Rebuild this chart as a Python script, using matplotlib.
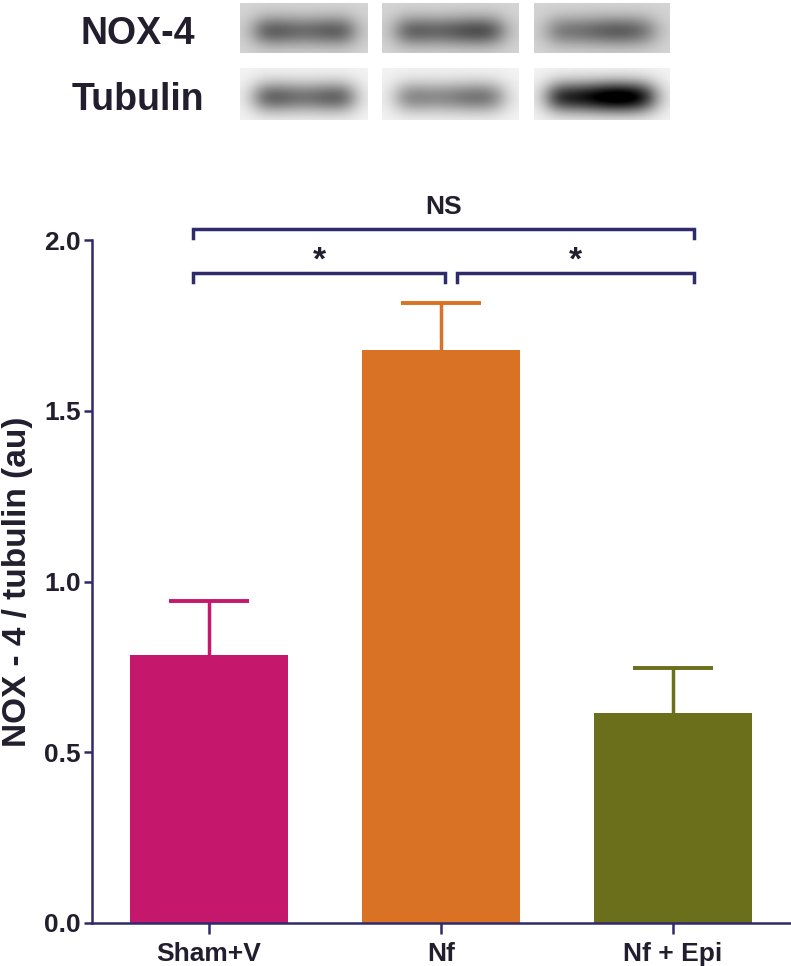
import matplotlib
matplotlib.use('Agg')
import matplotlib.pyplot as plt
import numpy as np

groups = ['Sham+V', 'Nf', 'Nf + Epi']
means = [0.785, 1.678, 0.615]
sems = [0.158, 0.137, 0.132]
colors = ['#C5176C', '#D97224', '#6B6E1A']

# blot band darkness (0 = white, 1 = black) per lane
nox_dark = [0.45, 0.48, 0.42]
tub_dark = [0.55, 0.45, 0.95]
blot_rows = ['NOX-4', 'Tubulin']

# significance brackets: (from group, to group, label)
brackets = [(0, 2, 'NS'), (0, 1, '*'), (1, 2, '*')]

plt.rcParams['font.family'] = ['Liberation Sans Narrow', 'Liberation Sans', 'DejaVu Sans']
plt.rcParams['font.weight'] = 'bold'
axcol = '#2E2A6B'
txtcol = '#221E2E'

W, H = 791, 966
fig = plt.figure(figsize=(W / 100, H / 100), dpi=100)

# ---- western blot strip ----
def band(dark, bg, shape, shift):
    h, w = shape
    yy, xx = np.mgrid[0:h, 0:w]
    cy = h * 0.55
    prof_y = np.exp(-((yy - cy) / (h * 0.3)) ** 2)
    prof_x = 1 / (1 + np.exp(-(xx - w * 0.12) / 7)) / (1 + np.exp((xx - w * 0.88) / 7))
    wobble = 1 + 0.1 * np.sin(xx / w * 2 * np.pi * 1.5 + shift)
    img = bg - dark * prof_y * prof_x * wobble
    return np.clip(img, 0, 1)

lanes_x = [(240, 368), (382, 519), (534, 670)]
rows_y = [(3, 53), (68, 120)]
for r, (y0, y1) in enumerate(rows_y):
    darks = nox_dark if r == 0 else tub_dark
    bg = 0.83 if r == 0 else 0.95
    for i, (x0, x1) in enumerate(lanes_x):
        bax = fig.add_axes([x0 / W, 1 - y1 / H, (x1 - x0) / W, (y1 - y0) / H])
        img = band(darks[i], bg, (y1 - y0, x1 - x0), i)
        bax.imshow(img, cmap='gray', vmin=0, vmax=1, aspect='auto', interpolation='bilinear')
        bax.axis('off')
    fig.text(138 / W, 1 - ((y0 + y1) / 2 + 6) / H, blot_rows[r], ha='center', va='center',
             fontsize=27, fontweight='bold', color=txtcol)

# ---- bar chart ----
ax = fig.add_axes([92 / W, (H - 923) / H, (W - 92) / W, (923 - 240) / H])
x = np.arange(len(groups))
for i in range(len(groups)):
    ax.bar(x[i], means[i], width=0.68, color=colors[i], zorder=2)
    ax.errorbar(x[i], means[i], yerr=[[0], [sems[i]]], color=colors[i], elinewidth=2.5,
                capsize=0, zorder=1)
    ax.plot(x[i], means[i] + sems[i], marker='_', ms=58, mew=2.8, color=colors[i],
            zorder=1)

ax.set_xlim(-0.504, 2.51)
ax.set_ylim(0, 2.0)
ax.set_yticks([0, 0.5, 1.0, 1.5, 2.0])
ax.set_yticklabels(['0.0', '0.5', '1.0', '1.5', '2.0'])
ax.set_xticks(x)
ax.set_xticklabels(groups)
for s in ['top', 'right']:
    ax.spines[s].set_visible(False)
for s in ['left', 'bottom']:
    ax.spines[s].set_color(axcol)
    ax.spines[s].set_linewidth(1.8)
ax.tick_params(colors=axcol, width=1.8, length=6, labelsize=19, labelcolor=txtcol, pad=2)
ax.tick_params(axis='x', length=8, pad=6)
for lab in ax.get_xticklabels() + ax.get_yticklabels():
    lab.set_fontweight('bold')
ax.set_ylabel('NOX - 4 / tubulin (au)', fontsize=24, fontweight='bold', color=txtcol, labelpad=8)

# significance brackets
levels = {'NS': 2.032, '*': 1.903}
for a, b, lab in brackets:
    yb = levels[lab]
    xa = a - 0.07 if a == 0 else a + 0.07
    xb = b + 0.09 if b == 2 else b + 0.02
    ax.plot([xa, xa, xb, xb], [yb - 0.025, yb, yb, yb - 0.025], color=axcol, lw=2.5,
            clip_on=False, solid_joinstyle='miter')
    ty = yb + 0.065 if lab == 'NS' else yb + 0.035
    ax.text((xa + xb) / 2, ty, lab, ha='center', va='center', fontsize=19 if lab == 'NS' else 24,
            fontweight='bold', color=txtcol, clip_on=False)

fig.savefig('out.png', dpi=100)
